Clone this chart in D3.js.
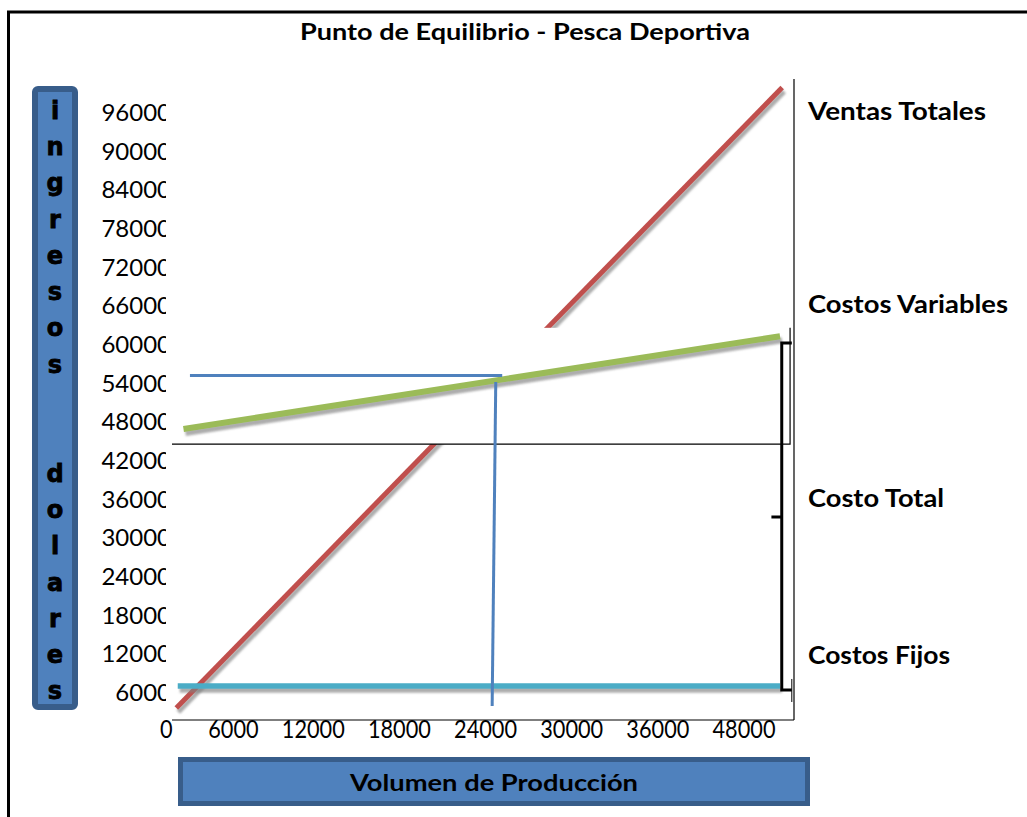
<!DOCTYPE html>
<html>
<head>
<meta charset="utf-8">
<script src="https://cdn.jsdelivr.net/npm/d3@7"></script>
<style>
  html, body { margin: 0; padding: 0; background: #fff; }
  svg { display: block; }
</style>
</head>
<body>
<div id="chart"></div>
<script>
// ---------------- DATA ----------------
const chartTitle = "Punto de Equilibrio - Pesca Deportiva";
const xTitle = "Volumen de Producción";
const yTitleLines = ["ingresos", "", "", "dolares"];
const xTickValues = [0, 6000, 12000, 18000, 24000, 30000, 36000, 42000];
const xTickLabels = ["0", "6000", "12000", "18000", "24000", "30000", "36000", "48000"];
const yTickValues = [6000, 12000, 18000, 24000, 30000, 36000, 42000, 48000, 54000, 60000, 66000, 72000, 78000, 84000, 90000, 96000];
const seriesNames = ["Ventas Totales", "Costos Variables", "Costo Total", "Costos Fijos"];
// [volumen, dólares]
const ventasTotales = [[300, 3500], [42500, 99800]];
const costosVariables = [[800, 46800], [42350, 61200]];
const costosFijos = [[400, 6900], [42350, 6900]];
const equilibrioH = [[1250, 55100], [23000, 55100]];
const equilibrioV = [[22550, 54100], [22300, 3800]];
// white mask box over the chart [volumen0, volumen1, dólares0, dólares1]
const maskBox = [0, 43050, 44450, 62500];
// bracket for "Costo Total": [bottom value, top value, middle value]
const bracketValues = [6290, 60140, 33140];
// label anchor values (dólares) for the right-hand labels
const labelValues = [96100, 66150, 36050, 11750];

// ---------------- LAYOUT ----------------
const W = 1027, H = 817;
const plot = { left: 172, right: 794, top: 79, bottom: 720 };
const svg = d3.select("#chart").append("svg").attr("width", W).attr("height", H);

const x = d3.scaleLinear().domain([0, 42000]).range([172, 775]);
const y = d3.scaleLinear().domain([0, 96000]).range([730.5, 112]);

const defs = svg.append("defs");
const f = defs.append("filter").attr("id", "shadow")
  .attr("filterUnits", "userSpaceOnUse")
  .attr("x", 0).attr("y", 0).attr("width", W).attr("height", H);
f.append("feDropShadow").attr("dx", 2).attr("dy", 4).attr("stdDeviation", 1.3)
  .attr("flood-color", "#808080").attr("flood-opacity", 0.65);
defs.append("clipPath").attr("id", "yclip").append("rect")
  .attr("x", -200).attr("y", 0).attr("width", 195).attr("height", H);

// outer frame
svg.append("path").attr("d", `M8.5,${H} V12 H${W}`)
  .attr("fill", "none").attr("stroke", "#000").attr("stroke-width", 3);

// title
svg.append("text").attr("x", 525).attr("y", 40)
  .attr("text-anchor", "middle")
  .attr("font-family", "Lato, 'Open Sans', sans-serif").attr("font-weight", 700)
  .attr("font-size", 22).attr("textLength", 450).attr("lengthAdjust", "spacingAndGlyphs")
  .text(chartTitle);

// plot frame: right border & bottom axis line
svg.append("line").attr("x1", plot.right).attr("x2", plot.right)
  .attr("y1", plot.top).attr("y2", plot.bottom).attr("stroke", "#000").attr("stroke-width", 1.2);
svg.append("line").attr("x1", plot.left).attr("x2", plot.right)
  .attr("y1", plot.bottom).attr("y2", plot.bottom).attr("stroke", "#000").attr("stroke-width", 1.2);

// y axis labels (clipped on the right like the original)
const yAxis = d3.axisLeft(y).tickValues(yTickValues).tickFormat(d3.format("d")).tickSize(0).tickPadding(0);
const gy = svg.append("g").attr("transform", "translate(171,0)").call(yAxis);
gy.select(".domain").remove();
gy.attr("clip-path", "url(#yclip)");
gy.selectAll("text")
  .attr("font-family", "Lato, 'Open Sans', sans-serif").attr("font-size", 24)
  .attr("fill", "#000").attr("dy", "0.36em");

// x axis labels
const xAxis = d3.axisBottom(x).tickValues(xTickValues)
  .tickFormat((d, i) => xTickLabels[i]).tickSize(0).tickPadding(0);
const gx = svg.append("g").attr("transform", `translate(0,${plot.bottom})`).call(xAxis);
gx.select(".domain").remove();
gx.selectAll("text")
  .attr("font-family", "Lato, 'Open Sans', sans-serif").attr("font-size", 25)
  .attr("fill", "#000").attr("text-anchor", "end").attr("y", 0).attr("dy", "0.73em")
  .attr("textLength", (d, i) => xTickLabels[i].length * 12.6)
  .attr("lengthAdjust", "spacingAndGlyphs");

const line = d3.line().x(d => x(d[0])).y(d => y(d[1]));

// Ventas Totales (red)
svg.append("path").datum(ventasTotales).attr("d", line)
  .attr("fill", "none").attr("stroke", "#C0504D").attr("stroke-width", 5)
  .attr("filter", "url(#shadow)");

// white mask box
svg.append("rect")
  .attr("x", x(maskBox[0])).attr("y", y(maskBox[3]))
  .attr("width", x(maskBox[1]) - x(maskBox[0]))
  .attr("height", y(maskBox[2]) - y(maskBox[3]))
  .attr("fill", "#fff");
svg.append("path")
  .attr("d", `M${x(maskBox[0])},${y(maskBox[2])} H${x(maskBox[1])} V${y(maskBox[3])}`)
  .attr("fill", "none").attr("stroke", "#000").attr("stroke-width", 1.2);

// Costos Fijos (cyan)
svg.append("path").datum(costosFijos).attr("d", line)
  .attr("fill", "none").attr("stroke", "#4BACC6").attr("stroke-width", 5.5)
  .attr("filter", "url(#shadow)");

// Costos Variables (green)
svg.append("path").datum(costosVariables).attr("d", line)
  .attr("fill", "none").attr("stroke", "#9BBB59").attr("stroke-width", 6)
  .attr("filter", "url(#shadow)");

// break-even lines (blue)
[equilibrioH, equilibrioV].forEach(dat => {
  svg.append("path").datum(dat).attr("d", line)
    .attr("fill", "none").attr("stroke", "#4F81BD").attr("stroke-width", 3);
});

// bracket for Costo Total
const bx = x(42470), bxHook = x(43170), bxMid = x(41750);
const yb = y(bracketValues[0]), yt = y(bracketValues[1]), ym = y(bracketValues[2]);
svg.append("path")
  .attr("d", `M${bxHook},${yt} H${bx} V${yb} H${bxHook} M${bx},${ym} H${bxMid}`)
  .attr("fill", "none").attr("stroke", "#000").attr("stroke-width", 3);
svg.append("line").attr("x1", bxHook).attr("x2", bxHook)
  .attr("y1", yb - 11).attr("y2", yb + 12).attr("stroke", "#000").attr("stroke-width", 1);

// right-hand labels
const labelWidths = [178, 200, 136, 142];
svg.selectAll("text.series-label").data(seriesNames).join("text")
  .attr("class", "series-label")
  .attr("x", 808).attr("y", (d, i) => y(labelValues[i]) + 9)
  .attr("font-family", "Lato, 'Open Sans', sans-serif").attr("font-weight", 700)
  .attr("font-size", 25)
  .attr("textLength", (d, i) => labelWidths[i]).attr("lengthAdjust", "spacingAndGlyphs")
  .text(d => d);

// Y title box
svg.append("rect").attr("x", 35).attr("y", 89).attr("width", 40).attr("height", 618)
  .attr("rx", 3).attr("fill", "#4F81BD").attr("stroke", "#385D8A").attr("stroke-width", 6);
const letters = [];
yTitleLines.forEach(ln => {
  if (ln === "") { letters.push(""); return; }
  ln.split("").forEach(c => letters.push(c));
});
svg.selectAll("text.ylet").data(letters).join("text")
  .attr("class", "ylet")
  .attr("x", 55).attr("y", (d, i) => 110 + i * 36.3)
  .attr("dy", "0.36em")
  .attr("text-anchor", "middle")
  .attr("font-family", "'DejaVu Sans', sans-serif").attr("font-weight", 900)
  .attr("font-size", 24).attr("fill", "#000")
  .attr("stroke", "#000").attr("stroke-width", 0.8)
  .text(d => d);

// X title box
svg.append("rect").attr("x", 180.5).attr("y", 759.5).attr("width", 627).attr("height", 44)
  .attr("fill", "#4F81BD").attr("stroke", "#385D8A").attr("stroke-width", 5);
svg.append("text").attr("x", 494).attr("y", 791)
  .attr("text-anchor", "middle")
  .attr("font-family", "Lato, 'Open Sans', sans-serif").attr("font-weight", 700)
  .attr("font-size", 23).attr("textLength", 288).attr("lengthAdjust", "spacingAndGlyphs")
  .attr("fill", "#000")
  .text(xTitle);
</script>
</body>
</html>
